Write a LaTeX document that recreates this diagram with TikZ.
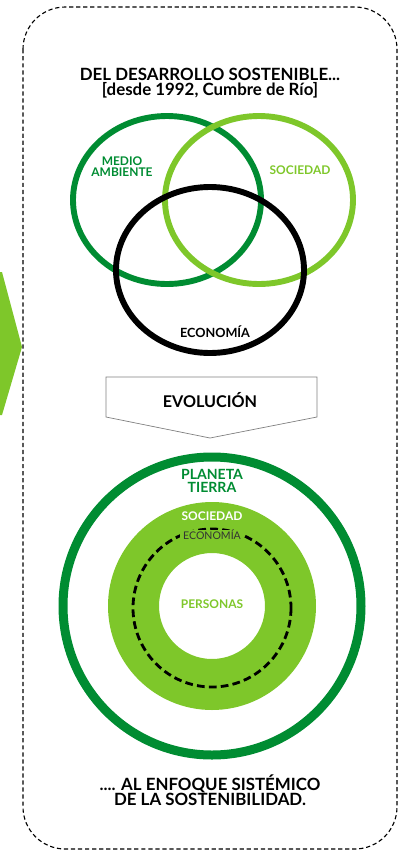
\documentclass[tikz,border=0pt]{standalone}
\usepackage{fontspec}
\setmainfont{Lato}
\definecolor{darkgreen}{HTML}{008C32}
\definecolor{lightgreen}{HTML}{7EC72A}

\begin{document}
\begin{tikzpicture}[x=0.025cm,y=-0.025cm,
        title/.style={font=\bfseries\fontsize{12}{10.8}\selectfont, align=center, inner sep=0pt},
        label/.style={font=\bfseries\fontsize{8.5}{8}\selectfont, align=center, inner sep=0pt},
        ring/.style={line width=4.2pt}]
    \useasboundingbox (0,0) rectangle (400,850);

    % frame and side arrow
    \draw[line width=0.8pt, dash pattern=on 3pt off 2pt, rounded corners=30pt] (23,7) rectangle (397,849);
    \fill[lightgreen] (0,272) -- (2,272) -- (22,347) -- (2,415) -- (0,415) -- cycle;

    \node[title] (top) at (210,83) {DEL DESARROLLO SOSTENIBLE...\\{}[desde 1992, Cumbre de Río]};

    % venn
    \draw[ring, darkgreen]  (167,200) ellipse [x radius=94, y radius=84];
    \draw[ring, lightgreen] (259,200) ellipse [x radius=94, y radius=84];
    \draw[ring, black]      (210,270) ellipse [x radius=94, y radius=83];

    \node[label, text=darkgreen]  (medio) at (122,167) {MEDIO\\AMBIENTE};
    \node[label, text=lightgreen] (soc)   at (300,170) {SOCIEDAD};
    \node[label, text=black, font=\bfseries\fontsize{9}{8}\selectfont] (eco) at (215,332) {ECONOMÍA};

    % evolucion
    \draw[gray, line width=0.5pt] (106,377) -- (317,377) -- (317,417) -- (210,438) -- (106,417) -- cycle;
    \node[label, font=\bfseries\fontsize{11.5}{11}\selectfont] (evo) at (210,400) {EVOLUCIÓN};

    % rings
    \draw[darkgreen, line width=6.4pt] (212,606) circle [radius=149];
    \fill[lightgreen, even odd rule] (212,606) circle [radius=104] (212,606) circle [radius=53];
    \draw[black, line width=2pt, dash pattern=on 5.5pt off 3pt] (212,608) circle [radius=79];

    \node[label, text=darkgreen, font=\bfseries\fontsize{10}{9.6}\selectfont] (planeta) at (212,481) {PLANETA\\TIERRA};
    \node[label, text=white]      (soc2) at (212,516) {SOCIEDAD};
    \node[label, text=black!80, fill=lightgreen, inner xsep=2pt, inner ysep=0.3pt, font=\fontsize{7.5}{7}\selectfont] (eco2) at (212,535) {ECONOMÍA};
    \node[label, text=lightgreen] (pers) at (212,604) {PERSONAS};

    \node[title] (bottom) at (210,790) {.... AL ENFOQUE SISTÉMICO\\DE LA SOSTENIBILIDAD.};
\end{tikzpicture}
\end{document}
